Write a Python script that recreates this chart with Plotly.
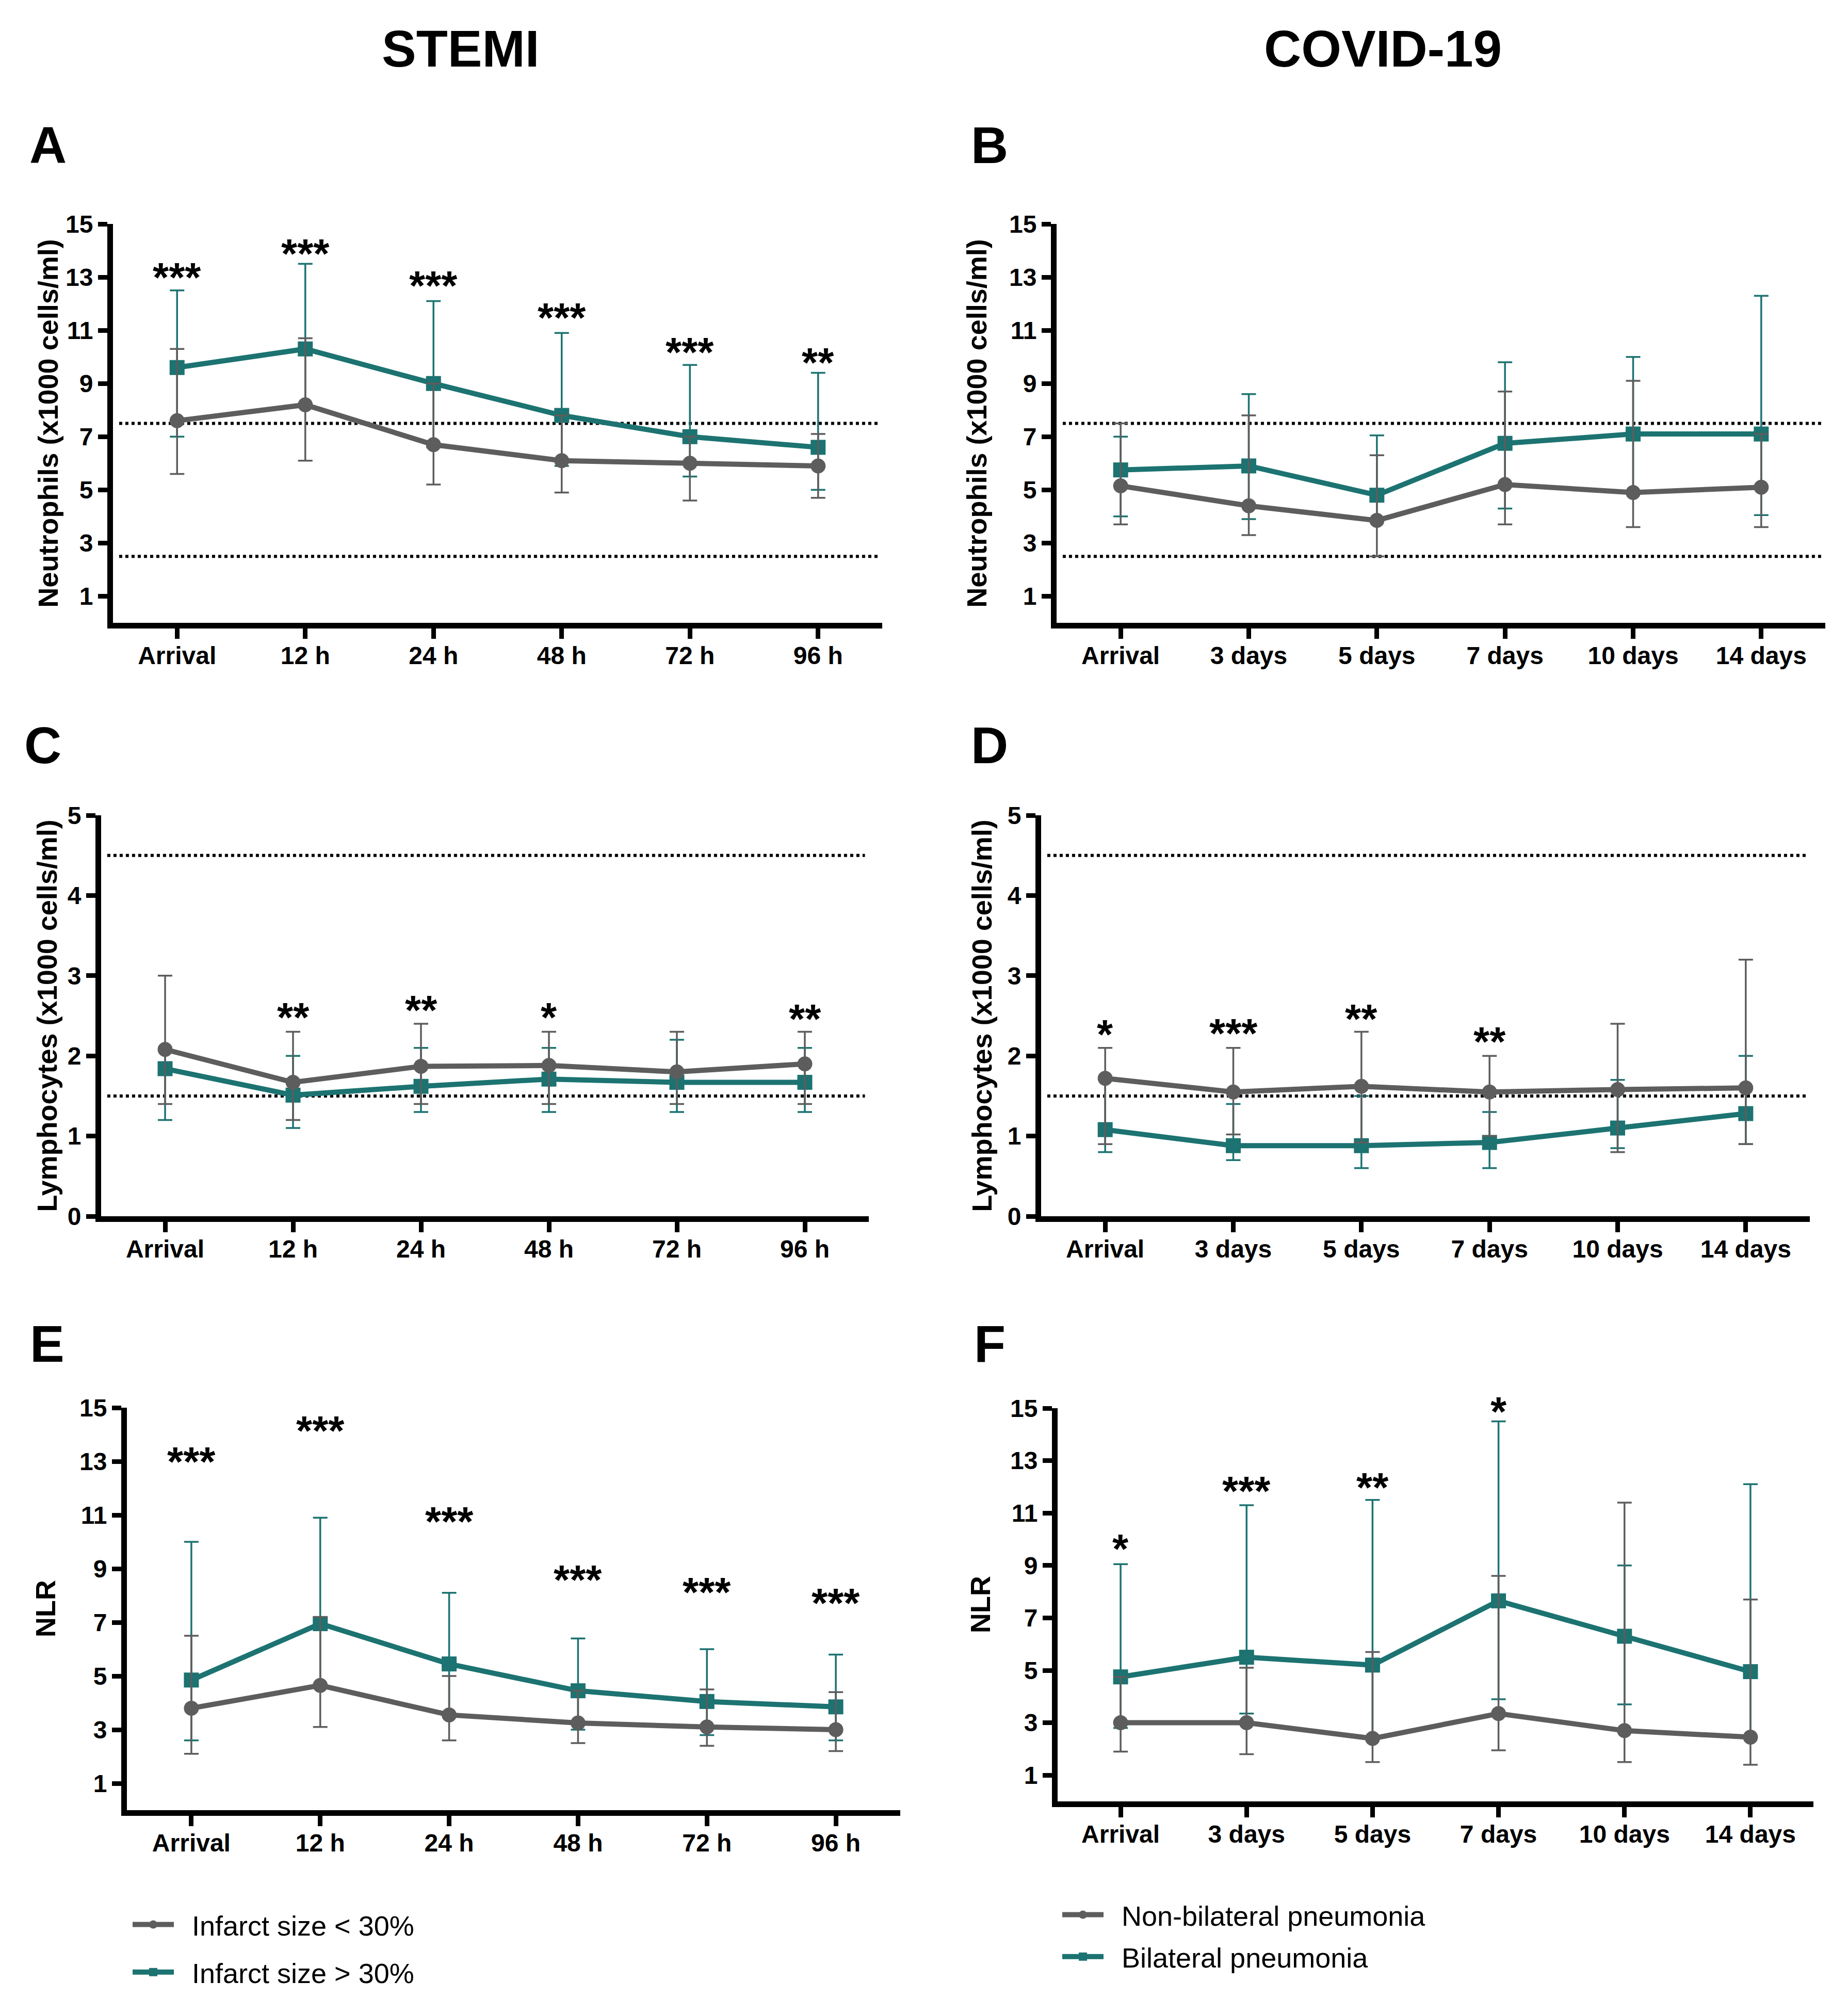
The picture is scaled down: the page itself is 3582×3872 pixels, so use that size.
import plotly.graph_objects as go

# ---------------- data ----------------
cats_stemi = ["Arrival", "12 h", "24 h", "48 h", "72 h", "96 h"]
cats_covid = ["Arrival", "3 days", "5 days", "7 days", "10 days", "14 days"]

stemi_names = ["&nbsp;&nbsp;Infarct size &lt; 30%", "&nbsp;&nbsp;Infarct size &gt; 30%"]
covid_names = ["&nbsp;&nbsp;Non-bilateral pneumonia", "&nbsp;&nbsp;Bilateral pneumonia"]

# A: Neutrophils, STEMI (median, Q1, Q3)
a_low_med = [7.6, 8.2, 6.7, 6.1, 6.0, 5.9]
a_low_q1 = [5.6, 6.1, 5.2, 4.9, 4.6, 4.7]
a_low_q3 = [10.3, 10.7, 9.0, 7.8, 7.0, 7.1]
a_high_med = [9.6, 10.3, 9.0, 7.8, 7.0, 6.6]
a_high_q1 = [7.0, 8.2, 6.6, 5.9, 5.5, 5.0]
a_high_q3 = [12.5, 13.5, 12.1, 10.9, 9.7, 9.4]
a_stars = ["***", "***", "***", "***", "***", "**"]
a_star_y = [13.1, 14.0, 12.8, 11.6, 10.3, 9.9]

# B: Neutrophils, COVID-19
b_low_med = [5.15, 4.4, 3.85, 5.2, 4.9, 5.1]
b_low_q1 = [3.7, 3.3, 2.5, 3.7, 3.6, 3.6]
b_low_q3 = [7.5, 7.8, 6.3, 8.7, 9.1, 7.1]
b_high_med = [5.75, 5.9, 4.8, 6.75, 7.1, 7.1]
b_high_q1 = [4.0, 3.9, 3.85, 4.3, 4.9, 4.05]
b_high_q3 = [7.0, 8.6, 7.05, 9.8, 10.0, 12.3]
b_stars = ["", "", "", "", "", ""]
b_star_y = [None, None, None, None, None, None]

# C: Lymphocytes, STEMI
c_low_med = [2.08, 1.67, 1.87, 1.88, 1.80, 1.90]
c_low_q1 = [1.4, 1.2, 1.4, 1.4, 1.4, 1.4]
c_low_q3 = [3.0, 2.3, 2.4, 2.3, 2.3, 2.3]
c_high_med = [1.84, 1.51, 1.62, 1.71, 1.67, 1.67]
c_high_q1 = [1.2, 1.1, 1.3, 1.3, 1.3, 1.3]
c_high_q3 = [2.08, 2.0, 2.1, 2.1, 2.2, 2.1]
c_stars = ["", "**", "**", "*", "", "**"]
c_star_y = [None, 2.52, 2.61, 2.52, None, 2.50]

# D: Lymphocytes, COVID-19
d_low_med = [1.72, 1.55, 1.62, 1.55, 1.58, 1.60]
d_low_q1 = [0.9, 1.02, 0.92, 1.0, 0.8, 0.9]
d_low_q3 = [2.1, 2.1, 2.3, 2.0, 2.4, 3.2]
d_high_med = [1.08, 0.88, 0.88, 0.92, 1.10, 1.28]
d_high_q1 = [0.8, 0.7, 0.6, 0.6, 0.85, 0.9]
d_high_q3 = [1.72, 1.4, 1.5, 1.3, 1.7, 2.0]
d_stars = ["*", "***", "**", "**", "", ""]
d_star_y = [2.31, 2.32, 2.5, 2.22, None, None]

# E: NLR, STEMI
e_low_med = [3.8, 4.65, 3.55, 3.25, 3.1, 3.0]
e_low_q1 = [2.1, 3.1, 2.6, 2.5, 2.4, 2.2]
e_low_q3 = [6.5, 7.2, 5.0, 4.45, 4.5, 4.4]
e_high_med = [4.85, 6.95, 5.45, 4.45, 4.05, 3.85]
e_high_q1 = [2.6, 4.65, 3.55, 3.0, 2.8, 2.6]
e_high_q3 = [10.0, 10.9, 8.1, 6.4, 6.0, 5.8]
e_stars = ["***", "***", "***", "***", "***", "***"]
e_star_y = [13.1, 14.26, 10.88, 8.7, 8.24, 7.83]

# F: NLR, COVID-19
f_low_med = [3.0, 3.0, 2.4, 3.35, 2.7, 2.45]
f_low_q1 = [1.9, 1.8, 1.5, 1.95, 1.5, 1.4]
f_low_q3 = [4.75, 5.1, 5.7, 8.6, 11.4, 7.7]
f_high_med = [4.75, 5.5, 5.2, 7.65, 6.3, 4.95]
f_high_q1 = [2.8, 3.35, 2.4, 3.9, 3.7, 2.45]
f_high_q3 = [9.05, 11.3, 11.5, 14.5, 9.0, 12.1]
f_stars = ["*", "***", "**", "*", "", ""]
f_star_y = [9.76, 11.96, 12.1, 15.0, None, None]

neut_ref = [2.5, 7.5]
lymph_ref = [1.5, 4.5]
odd_ticks = [1, 3, 5, 7, 9, 11, 13, 15]
lymph_ticks = [0, 1, 2, 3, 4, 5]

# ---------------- style ----------------
W, H = 3582, 3872
TEAL = "#1c7371"
GRAY = "#5d5d5d"
FONT = "Liberation Sans"

panels = [
    dict(letter="A", cats=cats_stemi, names=stemi_names, legend="legend",
         low=(a_low_med, a_low_q1, a_low_q3), high=(a_high_med, a_high_q1, a_high_q3),
         stars=a_stars, star_y=a_star_y, yr=[0, 15], yt=odd_ticks, refs=neut_ref,
         ytitle="Neutrophils (x1000 cells/ml)", box=(219, 1710, 434, 1207),
         ytx=92, lx=93, ly=281),
    dict(letter="B", cats=cats_covid, names=covid_names, legend="legend2",
         low=(b_low_med, b_low_q1, b_low_q3), high=(b_high_med, b_high_q1, b_high_q3),
         stars=b_stars, star_y=b_star_y, yr=[0, 15], yt=odd_ticks, refs=neut_ref,
         ytitle="Neutrophils (x1000 cells/ml)", box=(2048, 3538, 434, 1207),
         ytx=1892, lx=1918, ly=281),
    dict(letter="C", cats=cats_stemi, names=stemi_names, legend=None,
         low=(c_low_med, c_low_q1, c_low_q3), high=(c_high_med, c_high_q1, c_high_q3),
         stars=c_stars, star_y=c_star_y, yr=[0, 5], yt=lymph_ticks, refs=lymph_ref,
         ytitle="Lymphocytes (x1000 cells/ml)", box=(196, 1684, 1580, 2357),
         ytx=90, lx=83, ly=1444),
    dict(letter="D", cats=cats_covid, names=covid_names, legend=None,
         low=(d_low_med, d_low_q1, d_low_q3), high=(d_high_med, d_high_q1, d_high_q3),
         stars=d_stars, star_y=d_star_y, yr=[0, 5], yt=lymph_ticks, refs=lymph_ref,
         ytitle="Lymphocytes (x1000 cells/ml)", box=(2018, 3508, 1580, 2357),
         ytx=1902, lx=1918, ly=1444),
    dict(letter="E", cats=cats_stemi, names=stemi_names, legend=None,
         low=(e_low_med, e_low_q1, e_low_q3), high=(e_high_med, e_high_q1, e_high_q3),
         stars=e_stars, star_y=e_star_y, yr=[0, 15], yt=odd_ticks, refs=[],
         ytitle="NLR", box=(246, 1745, 2728, 3508),
         ytx=88, lx=91, ly=2604),
    dict(letter="F", cats=cats_covid, names=covid_names, legend=None,
         low=(f_low_med, f_low_q1, f_low_q3), high=(f_high_med, f_high_q1, f_high_q3),
         stars=f_stars, star_y=f_star_y, yr=[0, 15], yt=odd_ticks, refs=[],
         ytitle="NLR", box=(2050, 3515, 2729, 3491),
         ytx=1900, lx=1918, ly=2604),
]

fig = go.Figure()
annotations = []
shapes = []
layout_axes = {}

for i, p in enumerate(panels, start=1):
    sfx = "" if i == 1 else str(i)
    xa, ya = "x" + sfx, "y" + sfx
    x0, x1, yt_px, yb_px = p["box"]
    # teal first, grey drawn over it (as in the reference)
    for grp, color, symbol, nm, rank in ((p["high"], TEAL, "square", p["names"][1], 2),
                                         (p["low"], GRAY, "circle", p["names"][0], 1)):
        med, q1, q3 = grp
        tr = dict(
            x=p["cats"], y=med, xaxis=xa, yaxis=ya, mode="lines+markers",
            name=nm,
            line=dict(color=color, width=10),
            marker=dict(color=color, size=29, symbol=symbol),
            error_y=dict(type="data", symmetric=False,
                         array=[h - m for h, m in zip(q3, med)],
                         arrayminus=[m - l for m, l in zip(med, q1)],
                         color=color, thickness=3.5, width=14),
            showlegend=p["legend"] is not None,
            legendgroup=p["letter"] + symbol,
            legendrank=rank,
        )
        if p["legend"] is not None:
            tr["legend"] = p["legend"]
        fig.add_trace(go.Scatter(**tr))

    layout_axes["xaxis" + sfx] = dict(
        domain=[x0 / W, x1 / W], anchor=ya, type="category",
        range=[-0.5, len(p["cats"]) - 0.5],
        showline=True, linewidth=11, linecolor="black",
        ticks="outside", ticklen=20, tickwidth=9, tickcolor="black",
        ticklabelstandoff=-9,
        tickfont=dict(family=FONT, size=48, color="black", weight="bold"),
        showgrid=False, zeroline=False, fixedrange=True, automargin=False,
    )
    layout_axes["yaxis" + sfx] = dict(
        domain=[1 - yb_px / H, 1 - yt_px / H], anchor=xa,
        range=p["yr"], tickvals=p["yt"],
        showline=True, linewidth=11, linecolor="black",
        ticks="outside", ticklen=18, tickwidth=9, tickcolor="black",
        tickfont=dict(family=FONT, size=48, color="black", weight="bold"),
        showgrid=False, zeroline=False, fixedrange=True, automargin=False,
    )

    for r in p["refs"]:
        shapes.append(dict(type="line", xref=xa + " domain", yref=ya,
                           x0=0.008, x1=0.995, y0=r, y1=r,
                           line=dict(color="black", width=6, dash="dot"), layer="below"))

    for c, s, sy in zip(p["cats"], p["stars"], p["star_y"]):
        if s:
            annotations.append(dict(x=c, y=sy, xref=xa, yref=ya, text=s, showarrow=False,
                                    xanchor="center", yanchor="middle", yshift=-6,
                                    font=dict(family=FONT, size=80, color="black", weight="bold")))

    annotations.append(dict(x=p["ytx"] / W, y=1 - ((yt_px + yb_px) / 2) / H, xref="paper", yref="paper",
                            text=p["ytitle"], textangle=-90, showarrow=False,
                            xanchor="center", yanchor="middle",
                            font=dict(family=FONT, size=54, color="black", weight="bold")))
    annotations.append(dict(x=p["lx"] / W, y=1 - p["ly"] / H, xref="paper", yref="paper",
                            text=p["letter"], showarrow=False, xanchor="center", yanchor="middle",
                            font=dict(family=FONT, size=100, color="black", weight="bold")))

for txt, cx in (("STEMI", 893), ("COVID-19", 2680)):
    annotations.append(dict(x=cx / W, y=1 - 94 / H, xref="paper", yref="paper", text=txt,
                            showarrow=False, xanchor="center", yanchor="middle",
                            font=dict(family=FONT, size=100, color="black", weight="bold")))

legend_common = dict(xanchor="left", yanchor="top", bgcolor="rgba(0,0,0,0)", borderwidth=0,
                     itemwidth=80, traceorder="grouped",
                     font=dict(family=FONT, size=54, color="black"))

fig.update_layout(
    width=W, height=H, margin=dict(l=0, r=0, t=0, b=0, autoexpand=False),
    paper_bgcolor="white", plot_bgcolor="white",
    annotations=annotations, shapes=shapes,
    legend=dict(x=252 / W, y=1 - 3688 / H, tracegroupgap=19, **legend_common),
    legend2=dict(x=2054 / W, y=1 - 3669 / H, tracegroupgap=8, **legend_common),
    **layout_axes,
)

fig.write_html("out.html")
